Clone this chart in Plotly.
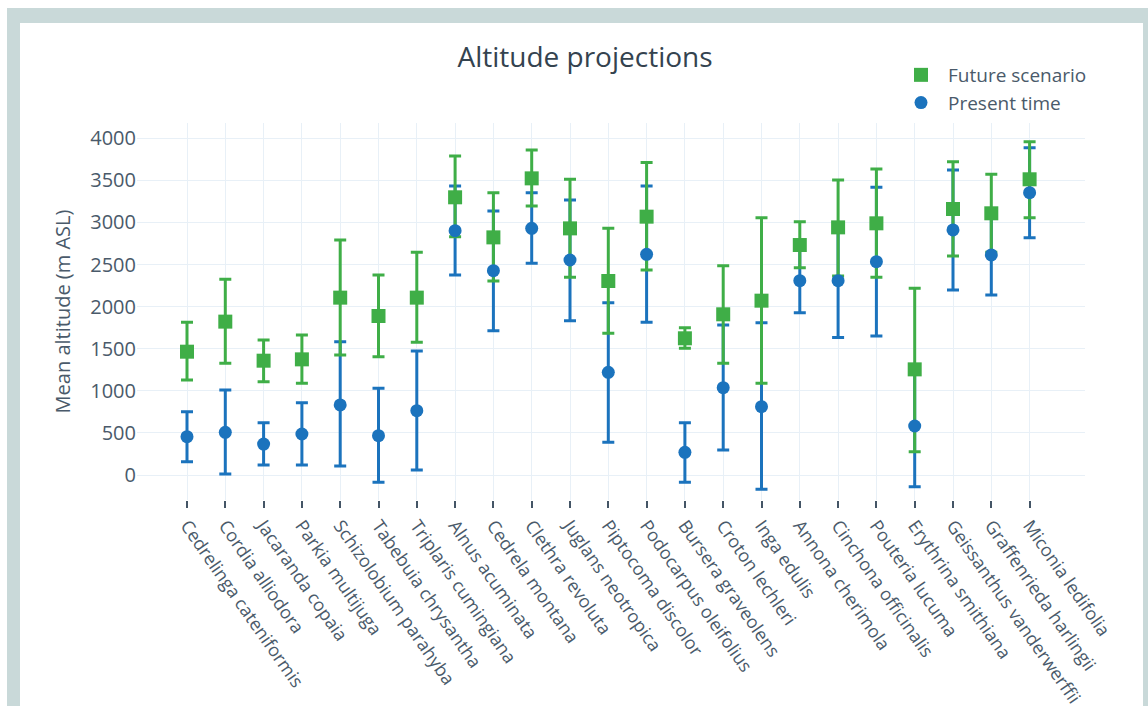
import plotly.graph_objects as go

species = [
    "Cedrelinga cateniformis", "Cordia alliodora", "Jacaranda copaia", "Parkia multijuga",
    "Schizolobium parahyba", "Tabebuia chrysantha", "Triplaris cumingiana", "Alnus acuminata",
    "Cedrela montana", "Clethra revoluta", "Juglans neotropica", "Piptocoma discolor",
    "Podocarpus oleifolius", "Bursera graveolens", "Croton lechleri", "Inga edulis",
    "Annona cherimola", "Cinchona officinalis", "Pouteria lucuma", "Erythrina smithiana",
    "Geissanthus vanderwerffii", "Graffenrieda harlingii", "Miconia ledifolia",
]

future_mean = [1465, 1822, 1358, 1374, 2107, 1889, 2107, 3299, 2823, 3524, 2930, 2305,
               3069, 1624, 1909, 2071, 2732, 2942, 2990, 1255, 3160, 3109, 3513]
future_upper = [1814, 2325, 1604, 1663, 2792, 2376, 2645, 3790, 3354, 3861, 3513, 2930,
                3711, 1750, 2487, 3057, 3010, 3505, 3635, 2218, 3722, 3572, 3960]
future_lower = [1129, 1327, 1109, 1089, 1426, 1406, 1576, 2831, 2305, 3196, 2348, 1683,
                2435, 1505, 1327, 1089, 2463, 2364, 2348, 277, 2602, 2645, 3057]

present_mean = [455, 507, 368, 487, 832, 467, 764, 2903, 2427, 2930, 2554, 1220,
                2622, 269, 1038, 812, 2309, 2309, 2534, 582, 2911, 2614, 3354]
present_upper = [752, 1010, 622, 859, 1584, 1030, 1473, 3433, 3136, 3354, 3267, 2047,
                 3433, 622, 1782, 1810, 2689, 2983, 3417, 1303, 3623, 3089, 3889]
present_lower = [158, 12, 119, 119, 107, -87, 59, 2376, 1715, 2515, 1833, 388,
                 1814, -87, 297, -170, 1929, 1635, 1651, -139, 2198, 2138, 2820]

GREEN = "#3fae47"
BLUE = "#1b73bd"
FONT = "Open Sans"
TXT = "#4a5a6a"

W, H = 1148, 706
L, R, T, B = 137, 1085, 123, 500  # plot area in pixels


def px(x):
    return (x - L) / (R - L)


def py(y):
    return (B - y) / (B - T)


fut_plus = [u - m for u, m in zip(future_upper, future_mean)]
fut_minus = [m - l for m, l in zip(future_mean, future_lower)]
pre_plus = [u - m for u, m in zip(present_upper, present_mean)]
pre_minus = [m - l for m, l in zip(present_mean, present_lower)]

fig = go.Figure()

# present-time error bars (drawn first, under the future series)
fig.add_trace(go.Scatter(
    x=species, y=present_mean, mode="markers", showlegend=False, hoverinfo="skip",
    marker=dict(size=12, color="rgba(0,0,0,0)"),
    error_y=dict(type="data", symmetric=False, array=pre_plus, arrayminus=pre_minus,
                 color=BLUE, thickness=3, width=6),
))
fig.add_trace(go.Scatter(
    x=species, y=future_mean, mode="markers", name="Future scenario",
    marker=dict(size=14, color=GREEN, symbol="square"),
    error_y=dict(type="data", symmetric=False, array=fut_plus, arrayminus=fut_minus,
                 color=GREEN, thickness=3, width=6),
))
fig.add_trace(go.Scatter(
    x=species, y=present_mean, mode="markers", name="Present time",
    marker=dict(size=13, color=BLUE, symbol="circle"),
))

# frame
fig.add_shape(type="rect", xref="paper", yref="paper", layer="below",
              x0=px(7), x1=px(1170), y0=py(730), y1=py(8),
              fillcolor="#c9d9d9", line_width=0)
fig.add_shape(type="rect", xref="paper", yref="paper", layer="below",
              x0=px(20), x1=px(1143), y0=py(730), y1=py(23),
              fillcolor="white", line_width=0)

xr0 = (L - 187) / 38.3
xr1 = (R - 187) / 38.3

fig.update_layout(
    width=W, height=H,
    margin=dict(l=L, r=W - R, t=T, b=H - B, autoexpand=False),
    paper_bgcolor="white", plot_bgcolor="rgba(0,0,0,0)",
    font=dict(family=FONT, size=18, color=TXT),
    title=dict(text="Altitude projections", x=585 / W, xanchor="center",
               y=1 - 57 / H, yanchor="middle",
               font=dict(family=FONT, size=28, color="#34434f")),
    legend=dict(x=px(894), y=py(56), xanchor="left", yanchor="top", itemwidth=44,
                tracegroupgap=0,
                bgcolor="rgba(0,0,0,0)", font=dict(size=19, color=TXT)),
    xaxis=dict(type="category", categoryorder="array", categoryarray=species,
               range=[xr0, xr1], tickangle=55, ticks="outside", ticklen=7,
               tickcolor="#445566", tickwidth=2, showgrid=True, gridcolor="#e8f0f7",
               showline=False, zeroline=False, tickfont=dict(size=18, color=TXT)),
    yaxis=dict(range=[-(B - 475) / 0.0842, 4000 + (138.3 - T) / 0.0842],
               tickvals=[0, 500, 1000, 1500, 2000, 2500, 3000, 3500, 4000],
               showgrid=True, gridcolor="#e8f0f7", zeroline=False, showline=False,
               tickfont=dict(size=20, color=TXT),
               title=dict(text="Mean altitude (m ASL)", standoff=14,
                          font=dict(size=20, color=TXT))),
)

fig.write_html("out.html", config={"displayModeBar": False},
               post_script="document.body.style.margin='0';")
